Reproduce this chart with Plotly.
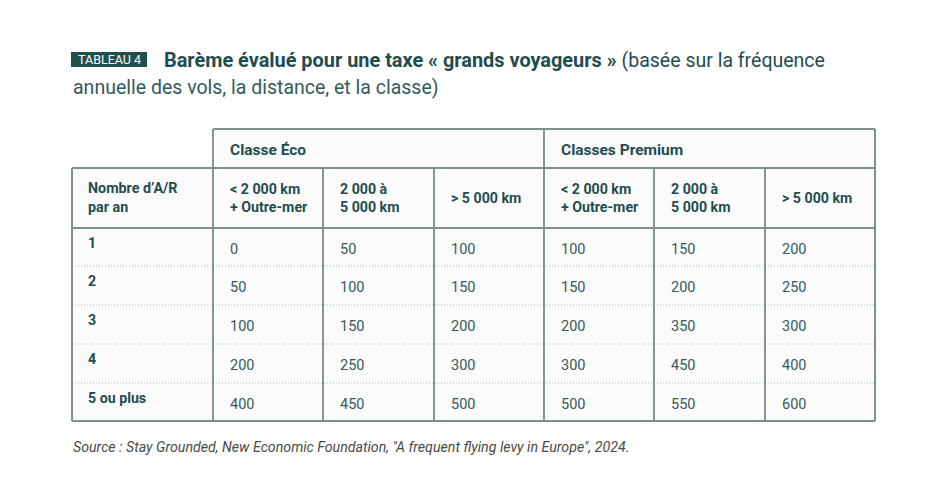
import plotly.graph_objects as go

row_labels = ["1", "2", "3", "4", "5 ou plus"]
group_labels = ["Classe Éco", "Classes Premium"]
distance_labels = ["< 2 000 km<br>+ Outre-mer", "2 000 à<br>5 000 km", "> 5 000 km"]
eco_short = [0, 50, 100, 200, 400]
eco_mid = [50, 100, 150, 250, 450]
eco_long = [100, 150, 200, 300, 500]
prem_short = [100, 150, 200, 300, 500]
prem_mid = [150, 200, 350, 450, 550]
prem_long = [200, 250, 300, 400, 600]
columns = [eco_short, eco_mid, eco_long, prem_short, prem_mid, prem_long]

title_bold = "Barème évalué pour une taxe « grands voyageurs »"
title_rest = "(basée sur la fréquence"
title_line2 = "annuelle des vols, la distance, et la classe)"
source = "Source : Stay Grounded, New Economic Foundation, \"A frequent flying levy in Europe\", 2024."

# layout geometry (pixels in the browser window; body has an 8px margin)
W, H = 942, 496
OFF = 8
col_edges = [72, 213, 323, 434, 544, 654, 765, 875]
top_hdr = (129, 168)
sub_hdr = (168, 228)
row_edges = [228, 266, 305, 344, 383, 421]

dark = "#1f4d4f"
text_col = "#345a5c"
border = "#7a9190"
inner = "#3f6262"
font = "Roboto"

fig = go.Figure()
shapes = []
ann = []

# light cell background
shapes.append(dict(type="rect", x0=col_edges[1], x1=col_edges[-1], y0=top_hdr[0], y1=top_hdr[1],
                   fillcolor="#fbfbfb", line_width=0, layer="below"))
shapes.append(dict(type="rect", x0=col_edges[0], x1=col_edges[-1], y0=sub_hdr[0], y1=row_edges[-1],
                   fillcolor="#fbfbfb", line_width=0, layer="below"))

# dotted row separators
for y in row_edges[1:-1]:
    shapes.append(dict(type="line", x0=col_edges[0], x1=col_edges[-1], y0=y, y1=y,
                       line=dict(color="#a9b4b4", width=1, dash="1px,2px")))

# inner verticals
for x in col_edges[1:-1]:
    y0 = top_hdr[0] if x in (col_edges[1], col_edges[4]) else sub_hdr[0]
    shapes.append(dict(type="line", x0=x, x1=x, y0=y0, y1=row_edges[-1],
                       line=dict(color=inner, width=1.3)))

# header horizontals
shapes.append(dict(type="line", x0=col_edges[0], x1=col_edges[-1], y0=sub_hdr[1], y1=sub_hdr[1],
                   line=dict(color=border, width=2)))
shapes.append(dict(type="line", x0=col_edges[0], x1=col_edges[-1], y0=sub_hdr[0], y1=sub_hdr[0],
                   line=dict(color=border, width=2)))
shapes.append(dict(type="line", x0=col_edges[1], x1=col_edges[-1], y0=top_hdr[0], y1=top_hdr[0],
                   line=dict(color=border, width=2)))
# outer borders
shapes.append(dict(type="line", x0=col_edges[0], x1=col_edges[-1], y0=row_edges[-1], y1=row_edges[-1],
                   line=dict(color=border, width=2)))
shapes.append(dict(type="line", x0=col_edges[0], x1=col_edges[0], y0=sub_hdr[0], y1=row_edges[-1],
                   line=dict(color=border, width=2)))
shapes.append(dict(type="line", x0=col_edges[-1], x1=col_edges[-1], y0=top_hdr[0], y1=row_edges[-1],
                   line=dict(color=border, width=2)))

pad = 15

# group headers
for g, lab in enumerate(group_labels):
    ann.append(dict(x=col_edges[1 + 3 * g] + pad, y=(top_hdr[0] + top_hdr[1]) / 2 + 1, text="<b>" + lab + "</b>",
                    xanchor="left", yanchor="middle", font=dict(size=15.5, color=dark)))

# distance headers
ann.append(dict(x=col_edges[0] + pad - 1, y=(sub_hdr[0] + sub_hdr[1]) / 2 - 1, text="<b>Nombre d’A/R<br>par an</b>",
                xanchor="left", yanchor="middle", align="left", font=dict(size=14.3, color=dark)))
for j in range(6):
    lab = distance_labels[j % 3]
    ann.append(dict(x=col_edges[j + 1] + pad, y=(sub_hdr[0] + sub_hdr[1]) / 2, text="<b>" + lab + "</b>",
                    xanchor="left", yanchor="middle", align="left", font=dict(size=14.2, color=dark)))

# row labels and values
for i, lab in enumerate(row_labels):
    top = row_edges[i]
    ann.append(dict(x=col_edges[0] + pad - 1, y=top + 15, text="<b>" + lab + "</b>",
                    xanchor="left", yanchor="middle", font=dict(size=14.2, color=dark)))
    for j, col in enumerate(columns):
        ann.append(dict(x=col_edges[j + 1] + pad, y=top + 21, text=str(col[i]),
                        xanchor="left", yanchor="middle", font=dict(size=14.5, color=text_col)))

# title block
shapes.append(dict(type="rect", x0=71, x1=147, y0=52, y1=67, fillcolor="#1f4f4f", line_width=0))
ann.append(dict(x=109, y=59.5, text="TABLEAU 4", xanchor="center", yanchor="middle",
                font=dict(size=12.5, color="white")))
ann.append(dict(x=162, y=60, text="<b>" + title_bold + "</b> " + "<span style='font-size:19.5px'>" + title_rest + "</span>",
                xanchor="left", yanchor="middle", font=dict(size=19.9, color=dark)))
ann.append(dict(x=71, y=87, text=title_line2,
                xanchor="left", yanchor="middle", font=dict(size=19.5, color=text_col)))

ann.append(dict(x=71, y=447, text="<i>" + source + "</i>", xanchor="left", yanchor="middle",
                font=dict(size=14.2, color="#4a4a4a")))

for a in ann:
    a.update(xref="x", yref="y", showarrow=False)

fig.update_layout(
    width=W - OFF, height=H - OFF,
    margin=dict(l=0, r=0, t=0, b=0),
    paper_bgcolor="white", plot_bgcolor="white",
    font=dict(family=font),
    xaxis=dict(range=[OFF, W], visible=False, fixedrange=True),
    yaxis=dict(range=[H, OFF], visible=False, fixedrange=True),
    shapes=shapes, annotations=ann, showlegend=False,
)

fig.write_html("out.html")
